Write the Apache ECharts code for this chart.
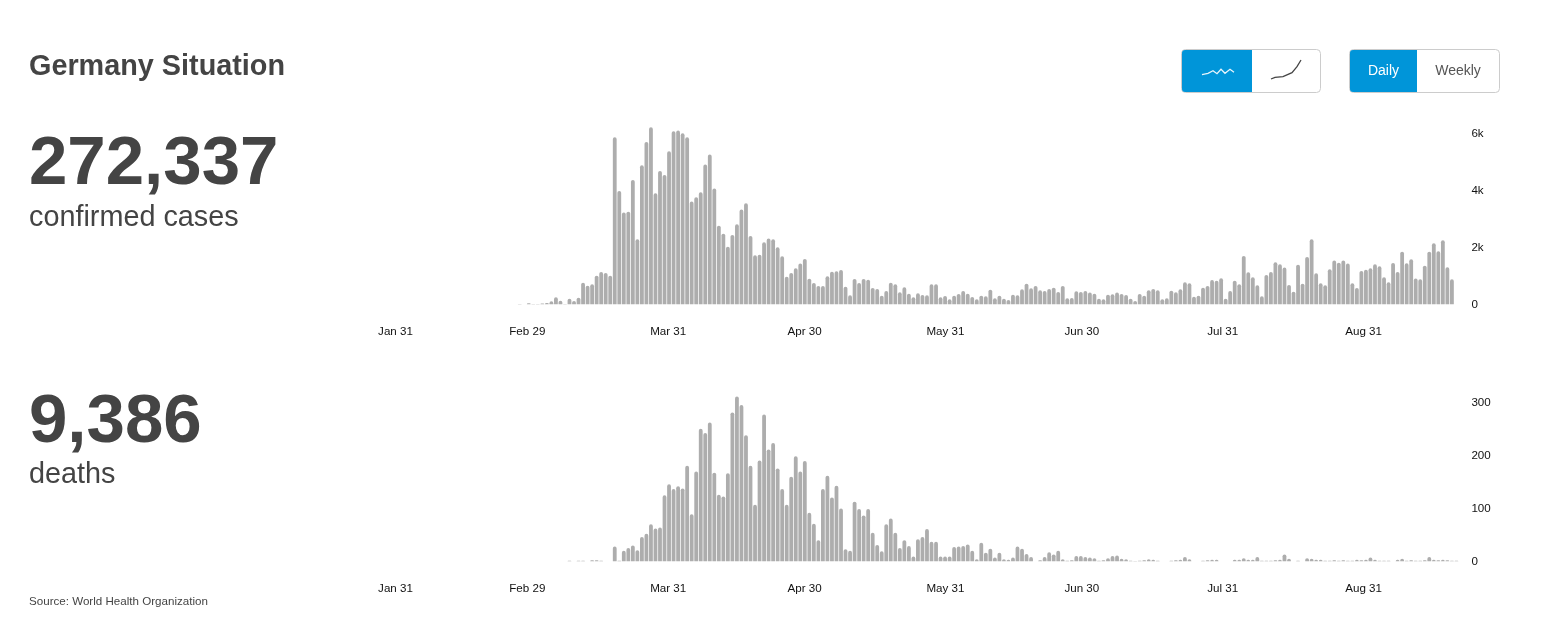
<!DOCTYPE html>
<html>
<head>
<meta charset="utf-8">
<title>Germany Situation</title>
<script src="https://cdn.jsdelivr.net/npm/echarts@6/dist/echarts.min.js"></script>
<style>
  html, body { margin: 0; padding: 0; background: #fff; }
  #chart { width: 1548px; height: 629px; }
</style>
</head>
<body>
<div id="chart"></div>
<script>
// Daily values
const casesStart = "2020-02-26";
const casesValues = [
    2, 10, 5, 35, 12, 12, 24, 47, 106, 247, 129, 12, 200, 118, 235, 764, 658, 705, 1011, 1140, 1105, 1011,
    5892, 3998, 3234, 3269, 4386, 2293, 4904, 5727, 6245, 3916, 4704, 4563, 5398, 6103, 6127, 6033, 5892,
    3622, 3775, 3951, 4927, 5280, 4081, 2775, 2493, 2034, 2446, 2822, 3340, 3563, 2411, 1729, 1752, 2187,
    2317, 2293, 2011, 1693, 976, 1105, 1270, 1435, 1600, 905, 753, 647, 647, 988, 1152, 1164, 1211, 623,
    318, 894, 753, 894, 870, 576, 541, 306, 470, 764, 706, 423, 600, 376, 247, 388, 329, 318, 706, 706,
    247, 294, 176, 306, 365, 470, 376, 259, 176, 306, 282, 517, 212, 306, 200, 153, 341, 318, 529, 729,
    564, 647, 494, 470, 541, 588, 435, 647, 212, 223, 459, 435, 470, 412, 376, 200, 176, 341, 353, 412,
    365, 329, 200, 118, 365, 306, 494, 541, 494, 176, 212, 482, 423, 529, 776, 741, 270, 306, 588, 647,
    858, 835, 917, 200, 470, 835, 706, 1705, 1129, 953, 670, 282, 1035, 1141, 1482, 1411, 1294, 682, 447,
    1399, 729, 1670, 2293, 1094, 741, 670, 1235, 1541, 1470, 1541, 1435, 741, 576, 1176, 1223, 1270, 1411,
    1341, 953, 776, 1458, 1141, 1858, 1446, 1588, 906, 882, 1364, 1858, 2152, 1870, 2258, 1305, 882
];
const deathsStart = "2020-03-09";
const deathsValues = [
    1, 0, 1, 1, 0, 2, 2, 1, 0, 0,
    28, 1, 20, 25, 30, 21, 46, 52, 70, 62, 64, 125, 146, 137, 142, 138, 181, 89, 170, 251, 243, 263, 168,
    126, 123, 167, 282, 312, 296, 239, 181, 107, 191, 278, 212, 224, 176, 137, 107, 160, 199, 170, 190,
    92, 71, 40, 137, 162, 121, 143, 100, 23, 20, 113, 99, 87, 99, 54, 31, 19, 70, 81, 54, 25, 40, 29, 9,
    42, 46, 61, 37, 37, 9, 9, 9, 27, 28, 29, 32, 20, 4, 35, 16, 24, 7, 16, 4, 3, 7, 28, 24, 14, 8, 0, 2,
    8, 17, 13, 20, 4, 1, 2, 10, 10, 8, 7, 6, 1, 2, 6, 10, 11, 5, 4, 1, 0.5, 1, 2, 4, 3, 1, 0, 0, 1, 2, 3,
    8, 4, 0, 0, 1, 2, 3, 3, 0, 0, 0, 3, 3, 6, 3, 3, 8, 1, 1, 1, 2, 3, 13, 5, 0, 1, 0, 6, 5, 3, 3, 1, 1, 2,
    1, 2, 1, 1, 3, 2, 3, 7, 3, 1, 1, 1, 0, 3, 5, 1, 2, 1, 1, 2, 8, 3, 2, 3, 2, 1, 1
];

const tickDates = ["2020-01-31", "2020-02-29", "2020-03-31", "2020-04-30", "2020-05-31", "2020-06-30", "2020-07-31", "2020-08-31"];
const tickLabels = ["Jan 31", "Feb 29", "Mar 31", "Apr 30", "May 31", "Jun 30", "Jul 31", "Aug 31"];
const casesTicks = [0, 2000, 4000, 6000];
const deathsTicks = [0, 100, 200, 300];

const axisStart = "2020-01-31";
const axisDays = 234;
const labelStretch = 1.0044; // date labels are spaced slightly wider than the bars in the picture
const DAY = 86400000;
const BAR_COLOR = "#adadad";
const TEXT_COLOR = "#444444";
const BLUE = "#0095d9";

// The x axis counts days from axisStart
function dayNumber(date) {
    return (Date.parse(date) - Date.parse(axisStart)) / DAY;
}

const tickDays = tickDates.map(d => dayNumber(d) * labelStretch);
const tickNames = new Map(tickDays.map((d, i) => [d, tickLabels[i]]));

// Turns a list of daily values into [day, value] pairs, bars sit a bit before midday
function toPairs(start, values) {
    return values.map((v, i) => [dayNumber(start) + i + 0.45, v]);
}

function makeXAxis(gridIndex) {
    return {
        type: "value",
        gridIndex: gridIndex,
        min: 0,
        max: axisDays,
        axisLine: { show: false },
        axisTick: { show: false },
        splitLine: { show: false },
        axisLabel: {
            customValues: tickDays,
            margin: 21,
            fontSize: 11.6,
            fontFamily: "Liberation Sans",
            color: "#111",
            formatter: value => tickNames.get(value) || ""
        }
    };
}

function makeYAxis(gridIndex, max, ticks, formatter) {
    return {
        type: "value",
        gridIndex: gridIndex,
        position: "right",
        min: 0,
        max: max,
        axisLine: { show: false },
        axisTick: { show: false },
        splitLine: { show: false },
        axisLabel: {
            customValues: ticks,
            margin: 17,
            fontSize: 11.6,
            fontFamily: "Liberation Sans",
            color: "#111",
            formatter: formatter
        }
    };
}

function makeSeries(index, start, values) {
    return {
        type: "bar",
        xAxisIndex: index,
        yAxisIndex: index,
        data: toPairs(start, values),
        barWidth: 3.8,
        silent: true,
        itemStyle: { color: BAR_COLOR, borderRadius: [2, 2, 0, 0] }
    };
}

function makeText(text, left, top, fontSize, fontWeight) {
    return {
        text: text,
        left: left,
        top: top,
        padding: 0,
        textStyle: {
            fontFamily: "Liberation Sans",
            fontSize: fontSize,
            fontWeight: fontWeight,
            color: TEXT_COLOR
        }
    };
}

// Draws one two-part switch button, left part is the selected one
function makeSwitch(x, width, splitX) {
    return [
        {
            type: "rect",
            shape: { x: x, y: 49.5, width: width, height: 43, r: 4 },
            style: { fill: "#fff", stroke: "#cccccc", lineWidth: 1 }
        },
        {
            type: "rect",
            shape: { x: x + 0.5, y: 50, width: splitX - x - 0.5, height: 42, r: [3, 0, 0, 3] },
            style: { fill: BLUE }
        }
    ];
}

function makeButtonLabel(text, x, color) {
    return {
        type: "text",
        x: x,
        y: 71,
        style: {
            text: text,
            fill: color,
            font: "14px 'Liberation Sans'",
            align: "center",
            verticalAlign: "middle"
        }
    };
}

const chart = echarts.init(document.getElementById("chart"), null, { renderer: "canvas" });

chart.setOption({
    animation: false,
    backgroundColor: "#fff",
    title: [
        makeText("Germany Situation", 29, 53, 28.8, "bold"),
        makeText("272,337", 29, 130, 69, "bold"),
        makeText("confirmed cases", 29, 204, 28.8, "normal"),
        makeText("9,386", 29, 388, 69, "bold"),
        makeText("deaths", 29, 461, 28.8, "normal"),
        makeText("Source: World Health Organization", 29, 596, 11.6, "normal")
    ],
    grid: [
        { left: 395.5, width: 1058.9, top: 125.7, height: 178.6 },
        { left: 395.5, width: 1058.9, top: 392.4, height: 168.9 }
    ],
    xAxis: [makeXAxis(0), makeXAxis(1)],
    yAxis: [
        makeYAxis(0, 6300, casesTicks, v => (v === 0 ? "0" : v / 1000 + "k")),
        makeYAxis(1, 320, deathsTicks, v => String(v))
    ],
    series: [
        makeSeries(0, casesStart, casesValues),
        makeSeries(1, deathsStart, deathsValues)
    ],
    graphic: [
        ...makeSwitch(1181.5, 139, 1252),
        ...makeSwitch(1349.5, 150, 1417),
        {
            type: "polyline",
            shape: { points: [[1202, 74.7], [1208, 73.3], [1213, 70.7], [1217, 73.7], [1221, 69.3], [1225, 73.3], [1230, 69.3], [1234, 72.3]] },
            style: { fill: "none", stroke: "#e6f4fb", lineWidth: 1.3 }
        },
        {
            type: "polyline",
            shape: { points: [[1271, 79], [1275, 77.3], [1283, 76.7], [1292, 72.7], [1297, 66.7], [1301, 60]] },
            style: { fill: "none", stroke: "#444", lineWidth: 1.3 }
        },
        makeButtonLabel("Daily", 1383.5, "#fff"),
        makeButtonLabel("Weekly", 1458, "#555")
    ]
});
</script>
</body>
</html>
